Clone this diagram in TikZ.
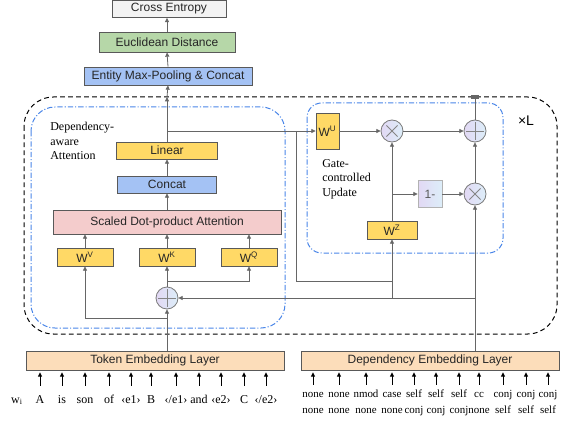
\documentclass[tikz,border=0pt]{standalone}
\usepackage{fontspec}
\setmainfont{Liberation Serif}
\setsansfont{Liberation Sans}
\usetikzlibrary{arrows.meta}

\definecolor{lineg}{HTML}{666666}
\definecolor{boxg}{HTML}{595959}
\definecolor{ceg}{HTML}{F3F3F3}
\definecolor{edg}{HTML}{B6D7A8}
\definecolor{blu}{HTML}{A4C2F4}
\definecolor{pnk}{HTML}{F4CCCC}
\definecolor{wyel}{HTML}{FFD966}
\definecolor{emb}{HTML}{FCDDBA}
\definecolor{oplav}{HTML}{E2D8F4}
\definecolor{opblu}{HTML}{DDEEF9}
\definecolor{opg}{HTML}{7A7A7A}
\definecolor{dashblu}{HTML}{4A86E8}

\begin{document}
\begin{tikzpicture}[x=0.75pt,y=-0.75pt,
    box/.style={draw=boxg, line width=0.6pt, inner sep=0pt, text=black!85,
        font=\sffamily\fontsize{9}{11}\selectfont},
    wbox/.style={box, fill=wyel, minimum width=42pt, minimum height=13.5pt},
    embbox/.style={box, fill=emb, minimum width=193.5pt, minimum height=14.25pt},
    ln/.style={draw=lineg, line width=0.6pt},
    arr/.style={ln, -{Triangle[length=3.2pt,width=3pt]}},
    op/.style={circle, draw=opg, line width=0.6pt, minimum size=16.5pt, inner sep=0pt,
        left color=oplav, right color=opblu},
    opplus/.style={op, path picture={
        \draw[lineg!80, line width=0.6pt]
            ([xshift=-6.5pt]path picture bounding box.center) -- ([xshift=6.5pt]path picture bounding box.center)
            ([yshift=-6.5pt]path picture bounding box.center) -- ([yshift=6.5pt]path picture bounding box.center);}},
    optimes/.style={op, path picture={
        \draw[lineg!80, line width=0.6pt]
            ([shift={(-4.2pt,-4.2pt)}]path picture bounding box.center) -- ([shift={(4.2pt,4.2pt)}]path picture bounding box.center)
            ([shift={(-4.2pt,4.2pt)}]path picture bounding box.center) -- ([shift={(4.2pt,-4.2pt)}]path picture bounding box.center);}},
    word/.style={inner sep=0pt, text height=6.5pt, font=\fontsize{9}{11}\selectfont},
    depword/.style={word, font=\fontsize{8.2}{10}\selectfont},
    note/.style={align=left, inner sep=0pt, anchor=north west, font=\fontsize{9}{11}\selectfont}
  ]
    \useasboundingbox (0,0) rectangle (570,424);

    % layer frames
    \draw[black, line width=0.75pt, dash pattern=on 3.5pt off 2.5pt, rounded corners=22pt]
        (24,97) rectangle (557,334);
    \draw[dashblu, line width=0.75pt, dash pattern=on 4pt off 1.5pt on 0.8pt off 1.5pt, rounded corners=18pt]
        (31,107) rectangle (285,328);
    \draw[dashblu, line width=0.75pt, dash pattern=on 4pt off 1.5pt on 0.8pt off 1.5pt, rounded corners=11pt]
        (307,103) rectangle (503,253);
    \node[font=\sffamily\fontsize{10.5}{12}\selectfont] (rep) at (526,121) {×L};

    % output head
    \node[box, fill=ceg, minimum width=85.5pt, minimum height=12.75pt] (ce) at (169,9) {Cross Entropy};
    \node[box, fill=edg, minimum width=102pt, minimum height=15pt] (ed) at (167,42) {Euclidean Distance};
    \node[box, fill=blu, minimum width=126pt, minimum height=13.5pt] (emp) at (168,76) {Entity Max-Pooling \& Concat};

    % dependency-aware attention
    \node[note] (dalabel) at (50,122) {Dependency-\\aware\\Attention};
    \node[box, fill=wyel, minimum width=75.75pt, minimum height=12.75pt] (linear) at (167,150.5) {Linear};
    \node[box, fill=blu, minimum width=74.25pt, minimum height=12.75pt] (concat) at (167,184.5) {Concat};
    \node[box, fill=pnk, minimum width=171pt, minimum height=18pt] (sdpa) at (167,222) {Scaled Dot-product Attention};
    \node[wbox] (wv) at (85,257) {W\textsuperscript{V}};
    \node[wbox] (wk) at (167,257) {W\textsuperscript{K}};
    \node[wbox] (wq) at (249,257) {W\textsuperscript{Q}};
    \node[opplus] (plus1) at (167,298) {};

    % gate-controlled update
    \node[note] (gclabel) at (322,159) {Gate-\\controlled\\Update};
    \node[box, fill=wyel, minimum width=17.25pt, minimum height=27pt] (wu) at (327.5,131) {W\textsuperscript{U}};
    \node[optimes] (times1) at (392,131) {};
    \node[opplus] (plus2) at (475,131) {};
    \node[box, draw=black!30, left color=oplav, right color=opblu, text=black!65,
        minimum width=18pt, minimum height=20.25pt] (onem) at (430,194) {1-};
    \node[optimes] (times2) at (475,194) {};
    \node[wbox, minimum width=37.5pt] (wz) at (392,230) {W\textsuperscript{Z}};

    % embedding layers
    \node[embbox] (tok) at (155,360.5) {Token Embedding Layer};
    \node[embbox] (dep) at (430,360.5) {Dependency Embedding Layer};

    \coordinate (jv) at (167,318);
    \coordinate (jq) at (167,281);
    \coordinate (ju) at (167,131);
    \coordinate (outtop) at (167,97);
    \coordinate (jr) at (296,131);
    \coordinate (jz) at (392,281);
    \coordinate (jd) at (392,298);
    \coordinate (jdep) at (475,298);
    \coordinate (jg) at (392,194);
    \coordinate (outr) at (475,95.5);

    % attention branch
    \draw[arr] (plus1 |- tok.north) -- (plus1.south);
    \draw[arr] (jv) -| (wv.south);
    \draw[arr] (plus1.north) -- (wk.south);
    \draw[arr] (jq) -| (wq.south);
    \draw[arr] (wv.north) -- (wv.north |- sdpa.south);
    \draw[arr] (wk.north) -- (wk.north |- sdpa.south);
    \draw[arr] (wq.north) -- (wq.north |- sdpa.south);
    \draw[arr] (sdpa.north) -- (concat.south);
    \draw[arr] (concat.north) -- (linear.south);
    \draw[arr] (linear.north) -- (outtop);
    \draw[arr] (outtop) -- (emp.south);
    \draw[arr] (emp.north) -- (ed.south);
    \draw[arr] (ed.north) -- (ed.north |- ce.south);

    % gate branch
    \draw[arr] (ju) -- (wu.west);
    \draw[ln] (jr) |- (jz);
    \draw[arr] (times2 |- dep.north) -- (times2.south);
    \draw[arr] (jdep) -- (plus1.east);
    \draw[arr] (jd) -- (wz.south);
    \draw[arr] (wz.north) -- (times1.south);
    \draw[arr] (jg) -- (onem.west);
    \draw[arr] (onem.east) -- (times2.west);
    \draw[arr] (times2.north) -- (plus2.south);
    \draw[arr] (wu.east) -- (times1.west);
    \draw[arr] (times1.east) -- (plus2.west);
    \draw[ln, -{Rectangle[length=2.2pt,width=5.5pt]}] (plus2.north) -- (outr);

    % token inputs
    \node[word, anchor=base] (wi) at (17,403) {w\textsubscript{i}};
    \foreach \x/\w [count=\i] in {40/A, 62/is, 85/son, 109/of, 131/{‹e1›}, 151/B,
                                 176/{‹/e1›}, 199/and, 221/{‹e2›}, 244/C, 266/{‹/e2›}} {
        \node[word, anchor=base] (t\i) at (\x,403) {\w};
        \draw[arr, line width=0.7pt, draw=black, shorten <=6.2pt, shorten >=1.5pt] (t\i.north) -- (t\i.north |- tok.south);
    }

    % dependency inputs
    \foreach \x/\a/\b [count=\i] in {313/none/none, 339/none/none, 366/nmod/none, 392/case/none,
                                    414/self/conj, 436/self/conj, 459/self/conj, 479/cc/none,
                                    503/conj/self, 526/conj/self, 548/conj/self} {
        \node[depword, anchor=base] (d\i) at (\x,397) {\a};
        \node[depword, anchor=base] (e\i) at (\x,413) {\b};
        \draw[arr, line width=0.7pt, draw=black, shorten <=2.4pt, shorten >=1.5pt] (d\i.north) -- (d\i.north |- dep.south);
    }

\end{tikzpicture}
\end{document}
